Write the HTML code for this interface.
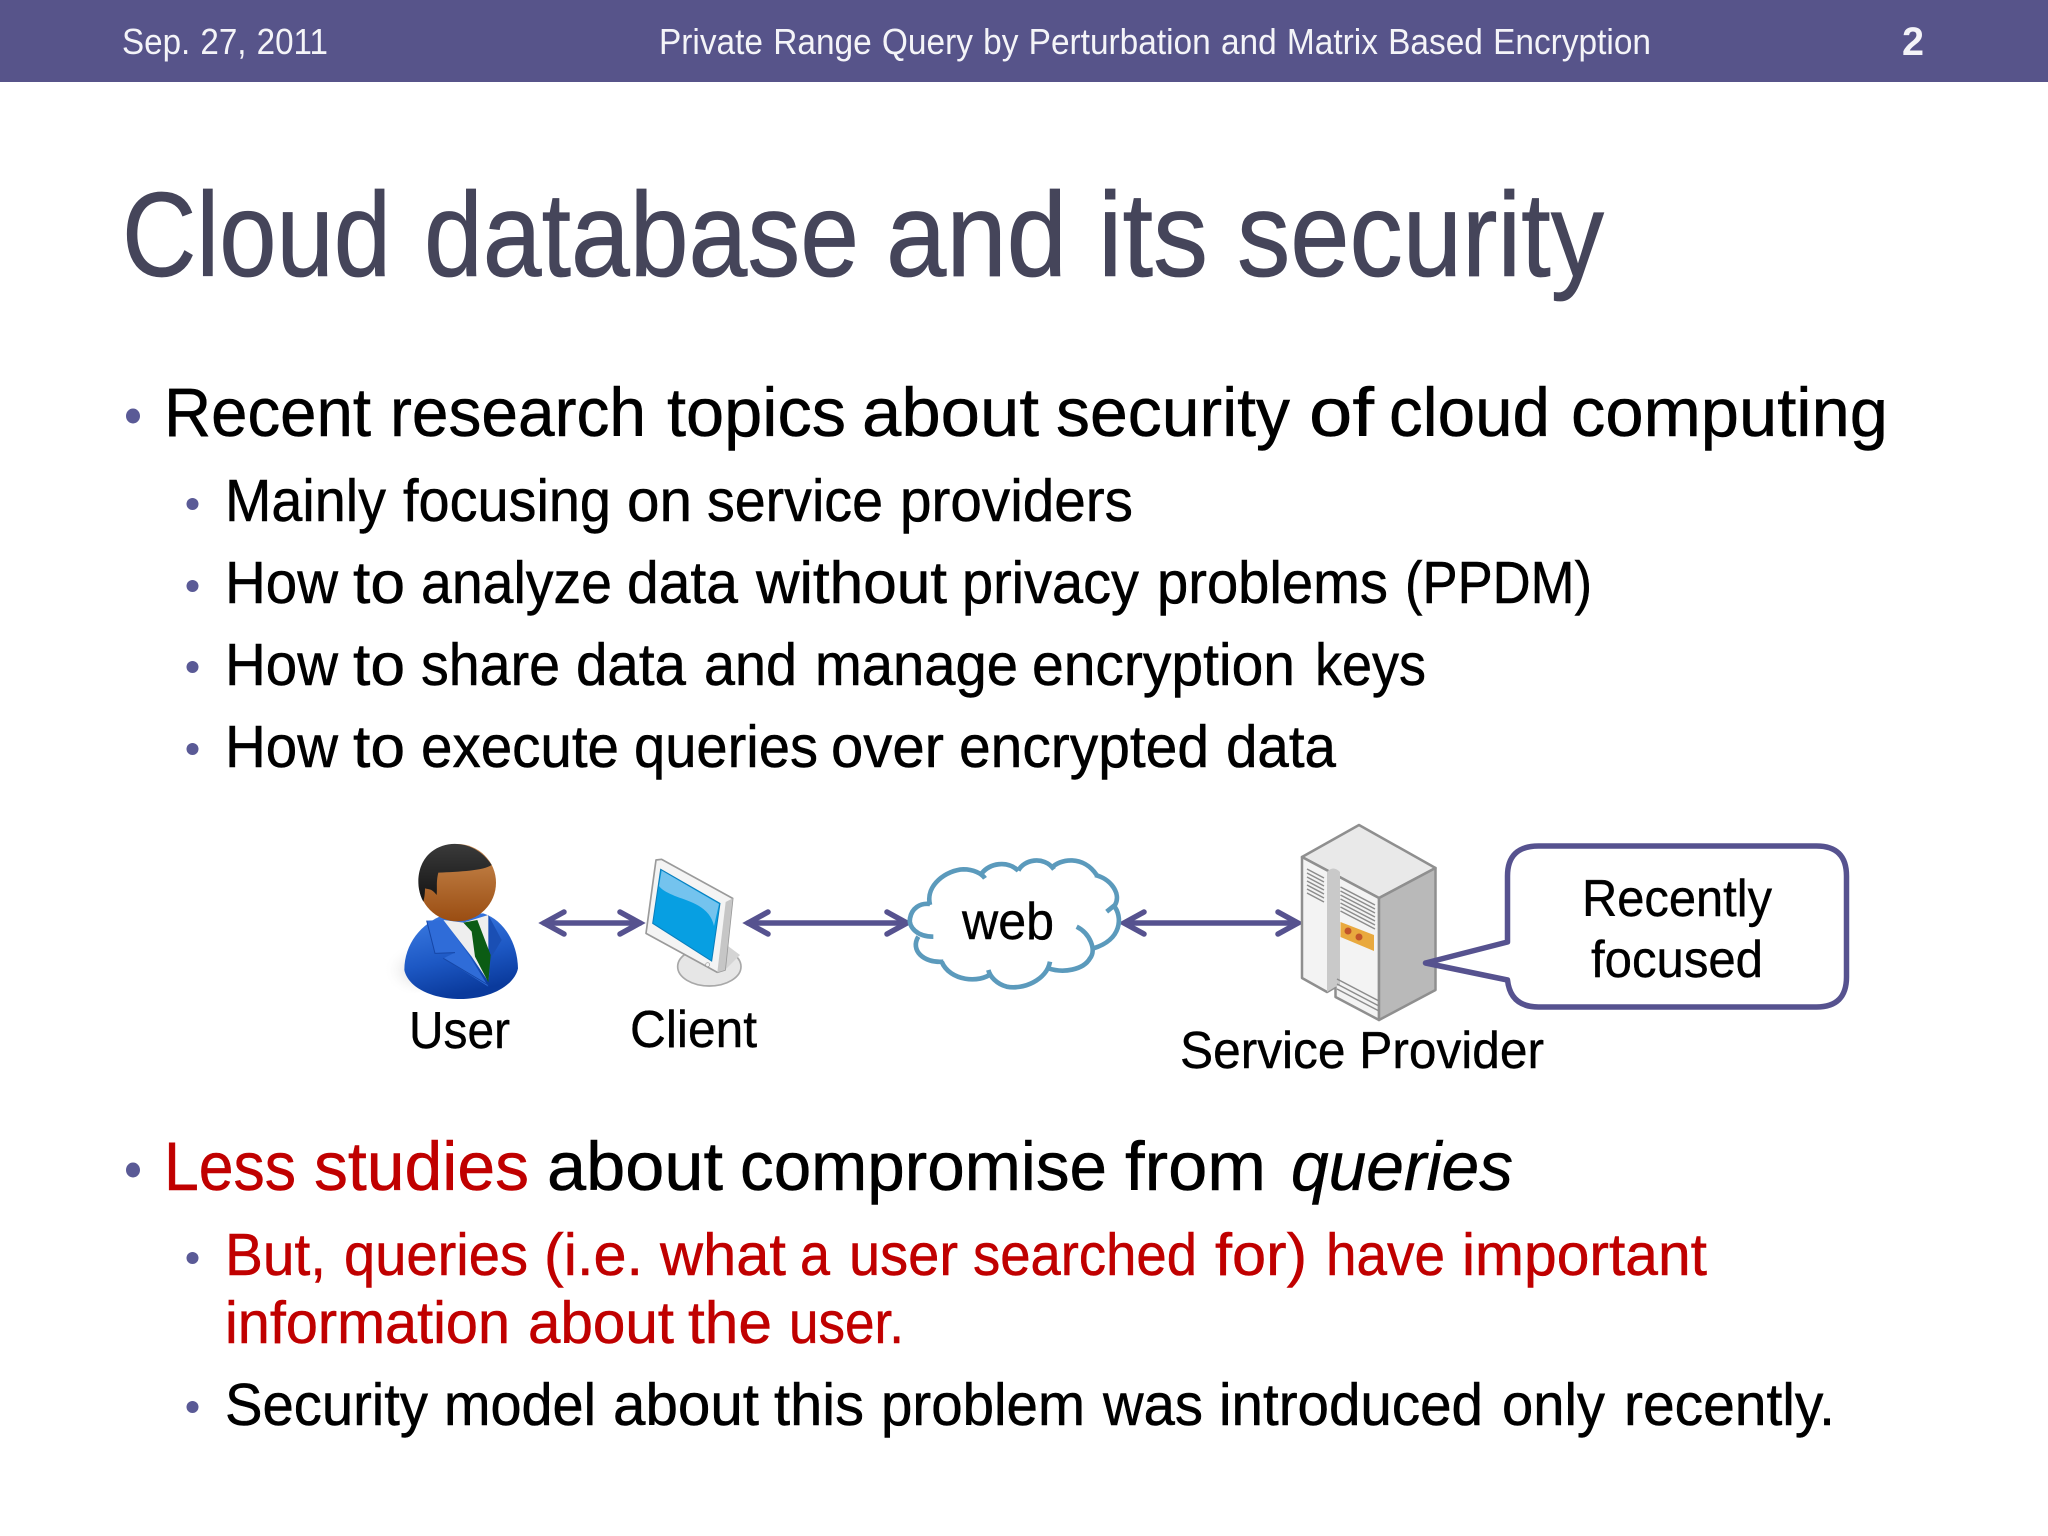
<!DOCTYPE html>
<html lang="en">
<head>
<meta charset="utf-8">
<title>Cloud database and its security</title>
<style>
html,body{margin:0;padding:0;background:#fff;width:2048px;height:1536px;overflow:hidden}
svg{display:block}
text{font-family:"Liberation Sans",sans-serif;fill:#000}
.t{font-size:120px;fill:#45455a;stroke:#45455a;stroke-width:.8px}
.l1{font-size:69px;stroke:#000;stroke-width:.5px}
.l2{font-size:59px;stroke:#000;stroke-width:.5px}
.lb{font-size:52px;stroke:#000;stroke-width:.4px}
.r{fill:#c00000;stroke:#c00000}
.hd{font-size:36px;fill:#f4f4f8;word-spacing:1px}
</style>
</head>
<body>
<svg xmlns="http://www.w3.org/2000/svg" width="2048" height="1536" viewBox="0 0 2048 1536">
<defs>
<linearGradient id="skin" x1="0" y1="0" x2="0" y2="1"><stop offset="0" stop-color="#c98a50"/><stop offset="1" stop-color="#9a4d12"/></linearGradient>
<linearGradient id="suit" x1="0" y1="0" x2="0.3" y2="1"><stop offset="0" stop-color="#3f7fe6"/><stop offset="0.6" stop-color="#1d58c4"/><stop offset="1" stop-color="#0a3a9c"/></linearGradient>
<radialGradient id="shadow" cx="0.7" cy="0.5" r="0.6"><stop offset="0" stop-color="#aaa"/><stop offset="1" stop-color="#fff" stop-opacity="0"/></radialGradient>
<linearGradient id="hair" x1="0" y1="0" x2="0" y2="1"><stop offset="0" stop-color="#3a3a3a"/><stop offset="1" stop-color="#141414"/></linearGradient>
</defs>

<rect x="0" y="0" width="2048" height="82" fill="#57548a"/>
<text class="hd" x="122" y="54" textLength="206" lengthAdjust="spacingAndGlyphs">Sep. 27, 2011</text>
<text class="hd" x="659" y="54" textLength="992" lengthAdjust="spacingAndGlyphs">Private Range Query by Perturbation and Matrix Based Encryption</text>
<text class="hd" x="1902" y="55" style="font-weight:700;font-size:40px" textLength="22" lengthAdjust="spacingAndGlyphs">2</text>

<g>
<text class="t" x="122" y="276" textLength="269" lengthAdjust="spacingAndGlyphs">Cloud</text>
<text class="t" x="424" y="276" textLength="435" lengthAdjust="spacingAndGlyphs">database</text>
<text class="t" x="886" y="276" textLength="181" lengthAdjust="spacingAndGlyphs">and</text>
<text class="t" x="1098" y="276" textLength="110" lengthAdjust="spacingAndGlyphs">its</text>
<text class="t" x="1237" y="276" textLength="367" lengthAdjust="spacingAndGlyphs">security</text>
</g>

<ellipse cx="133" cy="416" rx="7" ry="7.5" fill="#5a5a96"/>
<text class="l1" x="164" y="436" textLength="207" lengthAdjust="spacingAndGlyphs">Recent</text>
<text class="l1" x="390" y="436" textLength="256" lengthAdjust="spacingAndGlyphs">research</text>
<text class="l1" x="667" y="436" textLength="179" lengthAdjust="spacingAndGlyphs">topics</text>
<text class="l1" x="862" y="436" textLength="177" lengthAdjust="spacingAndGlyphs">about</text>
<text class="l1" x="1056" y="436" textLength="234" lengthAdjust="spacingAndGlyphs">security</text>
<text class="l1" x="1309" y="436" textLength="65" lengthAdjust="spacingAndGlyphs">of</text>
<text class="l1" x="1389" y="436" textLength="161" lengthAdjust="spacingAndGlyphs">cloud</text>
<text class="l1" x="1571" y="436" textLength="317" lengthAdjust="spacingAndGlyphs">computing</text>

<circle cx="192.5" cy="504" r="6" fill="#5a5a96"/>
<circle cx="192.5" cy="586" r="6" fill="#5a5a96"/>
<circle cx="192.5" cy="667" r="6" fill="#5a5a96"/>
<circle cx="192.5" cy="749" r="6" fill="#5a5a96"/>

<text class="l2" x="225" y="521" textLength="161" lengthAdjust="spacingAndGlyphs">Mainly</text>
<text class="l2" x="403" y="521" textLength="208" lengthAdjust="spacingAndGlyphs">focusing</text>
<text class="l2" x="627" y="521" textLength="65" lengthAdjust="spacingAndGlyphs">on</text>
<text class="l2" x="707" y="521" textLength="176" lengthAdjust="spacingAndGlyphs">service</text>
<text class="l2" x="900" y="521" textLength="233" lengthAdjust="spacingAndGlyphs">providers</text>

<text class="l2" x="225" y="603" textLength="113" lengthAdjust="spacingAndGlyphs">How</text>
<text class="l2" x="353" y="603" textLength="52" lengthAdjust="spacingAndGlyphs">to</text>
<text class="l2" x="421" y="603" textLength="191" lengthAdjust="spacingAndGlyphs">analyze</text>
<text class="l2" x="627" y="603" textLength="111" lengthAdjust="spacingAndGlyphs">data</text>
<text class="l2" x="756" y="603" textLength="191" lengthAdjust="spacingAndGlyphs">without</text>
<text class="l2" x="962" y="603" textLength="177" lengthAdjust="spacingAndGlyphs">privacy</text>
<text class="l2" x="1157" y="603" textLength="231" lengthAdjust="spacingAndGlyphs">problems</text>
<text class="l2" x="1405" y="603" textLength="187" lengthAdjust="spacingAndGlyphs">(PPDM)</text>

<text class="l2" x="225" y="685" textLength="113" lengthAdjust="spacingAndGlyphs">How</text>
<text class="l2" x="353" y="685" textLength="52" lengthAdjust="spacingAndGlyphs">to</text>
<text class="l2" x="421" y="685" textLength="139" lengthAdjust="spacingAndGlyphs">share</text>
<text class="l2" x="576" y="685" textLength="110" lengthAdjust="spacingAndGlyphs">data</text>
<text class="l2" x="704" y="685" textLength="93" lengthAdjust="spacingAndGlyphs">and</text>
<text class="l2" x="815" y="685" textLength="203" lengthAdjust="spacingAndGlyphs">manage</text>
<text class="l2" x="1032" y="685" textLength="263" lengthAdjust="spacingAndGlyphs">encryption</text>
<text class="l2" x="1315" y="685" textLength="111" lengthAdjust="spacingAndGlyphs">keys</text>

<text class="l2" x="225" y="767" textLength="113" lengthAdjust="spacingAndGlyphs">How</text>
<text class="l2" x="353" y="767" textLength="52" lengthAdjust="spacingAndGlyphs">to</text>
<text class="l2" x="421" y="767" textLength="198" lengthAdjust="spacingAndGlyphs">execute</text>
<text class="l2" x="634" y="767" textLength="184" lengthAdjust="spacingAndGlyphs">queries</text>
<text class="l2" x="831" y="767" textLength="113" lengthAdjust="spacingAndGlyphs">over</text>
<text class="l2" x="959" y="767" textLength="250" lengthAdjust="spacingAndGlyphs">encrypted</text>
<text class="l2" x="1226" y="767" textLength="110" lengthAdjust="spacingAndGlyphs">data</text>

<!-- User icon -->
<g transform="translate(360,800) scale(0.33333)">
  <ellipse cx="150" cy="510" rx="100" ry="70" fill="url(#shadow)" opacity="0.7"/>
  <path d="M133 510 C133 430 185 370 250 345 L370 340 C430 360 472 425 474 505 C462 560 385 597 300 597 C220 597 145 565 133 510 Z" fill="url(#suit)"/>
  <path d="M250 360 L310 368 L385 345 L392 480 L385 545 L335 470 Z" fill="#eeeeee"/>
  <path d="M200 362 L225 460 L285 458 L250 475 L385 560 L330 470 L250 360 Z" fill="#2f6cd8"/>
  <path d="M200 362 L225 460 L285 458" fill="none" stroke="#1546a6" stroke-width="3"/>
  <path d="M250 475 L385 555" fill="none" stroke="#1546a6" stroke-width="3"/>
  <path d="M385 345 L425 420 L395 470 L385 545" fill="#1a4fb4"/>
  <path d="M310 368 L352 360 L392 465 L385 547 L345 470 L335 395 Z" fill="#0b5c14"/>
  <circle cx="292" cy="248" r="116" fill="url(#skin)"/>
  <path d="M190 305 C165 260 170 190 215 155 C265 115 350 125 395 195 C370 212 300 215 235 218 C228 245 232 265 230 285 C215 265 205 268 195 265 C195 280 193 295 190 305 Z" fill="url(#hair)"/>
</g>

<!-- Client icon -->
<g transform="translate(360,800) scale(0.33333)">
  <ellipse cx="1048" cy="500" rx="95" ry="58" fill="#e6e6e6" stroke="#a8a8a8" stroke-width="5"/>
  <path d="M1080 420 L1140 465 L1095 510 L1060 500 Z" fill="#d4d4d4"/>
  <path d="M888 180 L905 178 L1118 295 L1095 510 L1072 517 L858 400 Z" fill="#f4f4f4" stroke="#9a9a9a" stroke-width="5" stroke-linejoin="round"/>
  <path d="M1118 295 L1097 306 L1072 517 L1095 510 Z" fill="#c6c6c6"/>
  <path d="M902 208 L1080 310 L1055 483 L878 370 Z" fill="#079fe2" stroke="#0a7dbb" stroke-width="3"/>
  <path d="M905 212 L1077 312 L1062 378 C1050 320 990 305 950 290 C925 280 905 270 897 258 Z" fill="#74c3ee"/>
  <circle cx="1043" cy="494" r="6" fill="#f4f4f4" stroke="#999" stroke-width="2"/>
</g>

<!-- Arrows -->
<g fill="none" stroke="#56528f" stroke-width="5.5" stroke-linecap="round" stroke-linejoin="miter">
  <path d="M544 923 L640 923"/>
  <path d="M564 912 L544 923 L564 934"/>
  <path d="M620 912 L640 923 L620 934"/>
  <path d="M748 923 L906 923"/>
  <path d="M768 912 L748 923 L768 934"/>
  <path d="M887 912 L907 923 L887 934"/>
  <path d="M1125 923 L1297 923"/>
  <path d="M1144 912 L1124 923 L1144 934"/>
  <path d="M1278 912 L1298 923 L1278 934"/>
</g>

<!-- Cloud -->
<g transform="translate(880,830) scale(0.33333)" fill="none" stroke="#5b9abc" stroke-width="14">
  <path d="M160 320 C110 320 85 290 90 265 C95 235 120 218 150 222"/>
  <path d="M150 225 C135 165 200 120 250 118 C280 118 305 130 315 145"/>
  <path d="M305 130 C330 100 380 90 415 122"/>
  <path d="M415 122 C430 90 490 75 522 118"/>
  <path d="M512 116 C540 85 610 75 650 135"/>
  <path d="M645 135 C690 145 725 190 705 225 L680 245"/>
  <path d="M700 225 C730 260 725 330 640 355"/>
  <path d="M590 290 C630 310 650 360 630 385 C610 420 550 430 505 415"/>
  <path d="M510 395 C500 450 430 480 380 470 C350 462 330 440 325 420"/>
  <path d="M335 430 C300 460 210 455 185 395"/>
  <path d="M190 395 C130 400 90 360 115 320"/>
</g>
<text class="lb" x="962" y="939" textLength="92" lengthAdjust="spacingAndGlyphs">web</text>

<!-- Server -->
<g transform="translate(-2,0)" stroke-linejoin="round">
  <path d="M1361 825 L1437.5 868 L1381 898 L1304 857 Z" fill="#e9e9e9" stroke="#8f8f8f" stroke-width="2.5"/>
  <path d="M1304 857 L1381 898 L1381 1020 L1337.5 997 L1337.5 987 L1329 992 L1304 978 Z" fill="#f3f3f3" stroke="#8f8f8f" stroke-width="2.5"/>
  <path d="M1381 898 L1437.5 868 L1437.5 990 L1381 1020 Z" fill="#b9b9b9" stroke="#8f8f8f" stroke-width="2.5"/>
  <path d="M1329 872 Q1335 865 1342 872 L1342 985 L1337 987 L1329 992 Z" fill="#c9c9c9"/>
  <g stroke="#8c8c8c" stroke-width="1.5" fill="none">
    <path d="M1309 869 L1326 878 M1309 873 L1326 882 M1309 877 L1326 886 M1309 881 L1326 890 M1309 885 L1326 894 M1309 889 L1326 898 M1309 893 L1326 902"/>
    <path d="M1342.5 887 L1377 905 M1342.5 891 L1377 909 M1342.5 895 L1377 913 M1342.5 899 L1377 917 M1342.5 903 L1377 921 M1342.5 907 L1377 925 M1342.5 911 L1377 929"/>
    <path d="M1339 979 L1381 1001 M1339 984 L1381 1006 M1339 989 L1381 1011"/>
  </g>
  <path d="M1342.5 922 L1376 935 L1376 951 L1342.5 937 Z" fill="#e9a93e"/>
  <circle cx="1350" cy="931" r="3.5" fill="#c2552a"/>
  <circle cx="1361" cy="937" r="3.5" fill="#c2552a"/>
</g>

<!-- Callout -->
<path transform="translate(-2.5,0)" d="M1541 846 L1819 846 Q1849 846 1849 876 L1849 977 Q1849 1007 1819 1007 L1541 1007 Q1513 1007 1510 980 L1428 963 L1510 942 L1510 876 Q1510 846 1541 846 Z" fill="#fff" stroke="#56528f" stroke-width="5.5" stroke-linejoin="round"/>
<text class="lb" x="1582" y="916" textLength="190" lengthAdjust="spacingAndGlyphs">Recently</text>
<text class="lb" x="1591" y="977" textLength="172" lengthAdjust="spacingAndGlyphs">focused</text>

<text class="lb" x="409" y="1048" textLength="101" lengthAdjust="spacingAndGlyphs">User</text>
<text class="lb" x="630" y="1047" textLength="127" lengthAdjust="spacingAndGlyphs">Client</text>
<text class="lb" x="1180" y="1068" textLength="364" lengthAdjust="spacingAndGlyphs">Service Provider</text>

<ellipse cx="133" cy="1170" rx="7" ry="7.5" fill="#5a5a96"/>
<text class="l1 r" x="164" y="1190" textLength="132" lengthAdjust="spacingAndGlyphs">Less</text>
<text class="l1 r" x="314" y="1190" textLength="215" lengthAdjust="spacingAndGlyphs">studies</text>
<text class="l1" x="547" y="1190" textLength="176" lengthAdjust="spacingAndGlyphs">about</text>
<text class="l1" x="740" y="1190" textLength="367" lengthAdjust="spacingAndGlyphs">compromise</text>
<text class="l1" x="1125" y="1190" textLength="141" lengthAdjust="spacingAndGlyphs">from</text>
<text class="l1" x="1291" y="1190" font-style="italic" textLength="222" lengthAdjust="spacingAndGlyphs">queries</text>

<circle cx="192.5" cy="1258" r="6" fill="#5a5a96"/>
<text class="l2 r" x="225" y="1275" textLength="101" lengthAdjust="spacingAndGlyphs">But,</text>
<text class="l2 r" x="344" y="1275" textLength="184" lengthAdjust="spacingAndGlyphs">queries</text>
<text class="l2 r" x="544" y="1275" textLength="99" lengthAdjust="spacingAndGlyphs">(i.e.</text>
<text class="l2 r" x="660" y="1275" textLength="126" lengthAdjust="spacingAndGlyphs">what</text>
<text class="l2 r" x="800" y="1275" textLength="30" lengthAdjust="spacingAndGlyphs">a</text>
<text class="l2 r" x="849" y="1275" textLength="109" lengthAdjust="spacingAndGlyphs">user</text>
<text class="l2 r" x="973" y="1275" textLength="224" lengthAdjust="spacingAndGlyphs">searched</text>
<text class="l2 r" x="1215" y="1275" textLength="92" lengthAdjust="spacingAndGlyphs">for)</text>
<text class="l2 r" x="1326" y="1275" textLength="119" lengthAdjust="spacingAndGlyphs">have</text>
<text class="l2 r" x="1462" y="1275" textLength="245" lengthAdjust="spacingAndGlyphs">important</text>

<text class="l2 r" x="225" y="1343" textLength="285" lengthAdjust="spacingAndGlyphs">information</text>
<text class="l2 r" x="528" y="1343" textLength="146" lengthAdjust="spacingAndGlyphs">about</text>
<text class="l2 r" x="688" y="1343" textLength="84" lengthAdjust="spacingAndGlyphs">the</text>
<text class="l2 r" x="789" y="1343" textLength="115" lengthAdjust="spacingAndGlyphs">user.</text>

<circle cx="192.5" cy="1407" r="6" fill="#5a5a96"/>
<text class="l2" x="225" y="1425" textLength="203" lengthAdjust="spacingAndGlyphs">Security</text>
<text class="l2" x="444" y="1425" textLength="152" lengthAdjust="spacingAndGlyphs">model</text>
<text class="l2" x="613" y="1425" textLength="146" lengthAdjust="spacingAndGlyphs">about</text>
<text class="l2" x="774" y="1425" textLength="90" lengthAdjust="spacingAndGlyphs">this</text>
<text class="l2" x="881" y="1425" textLength="204" lengthAdjust="spacingAndGlyphs">problem</text>
<text class="l2" x="1103" y="1425" textLength="100" lengthAdjust="spacingAndGlyphs">was</text>
<text class="l2" x="1219" y="1425" textLength="264" lengthAdjust="spacingAndGlyphs">introduced</text>
<text class="l2" x="1502" y="1425" textLength="103" lengthAdjust="spacingAndGlyphs">only</text>
<text class="l2" x="1624" y="1425" textLength="211" lengthAdjust="spacingAndGlyphs">recently.</text>
</svg>
</body>
</html>
